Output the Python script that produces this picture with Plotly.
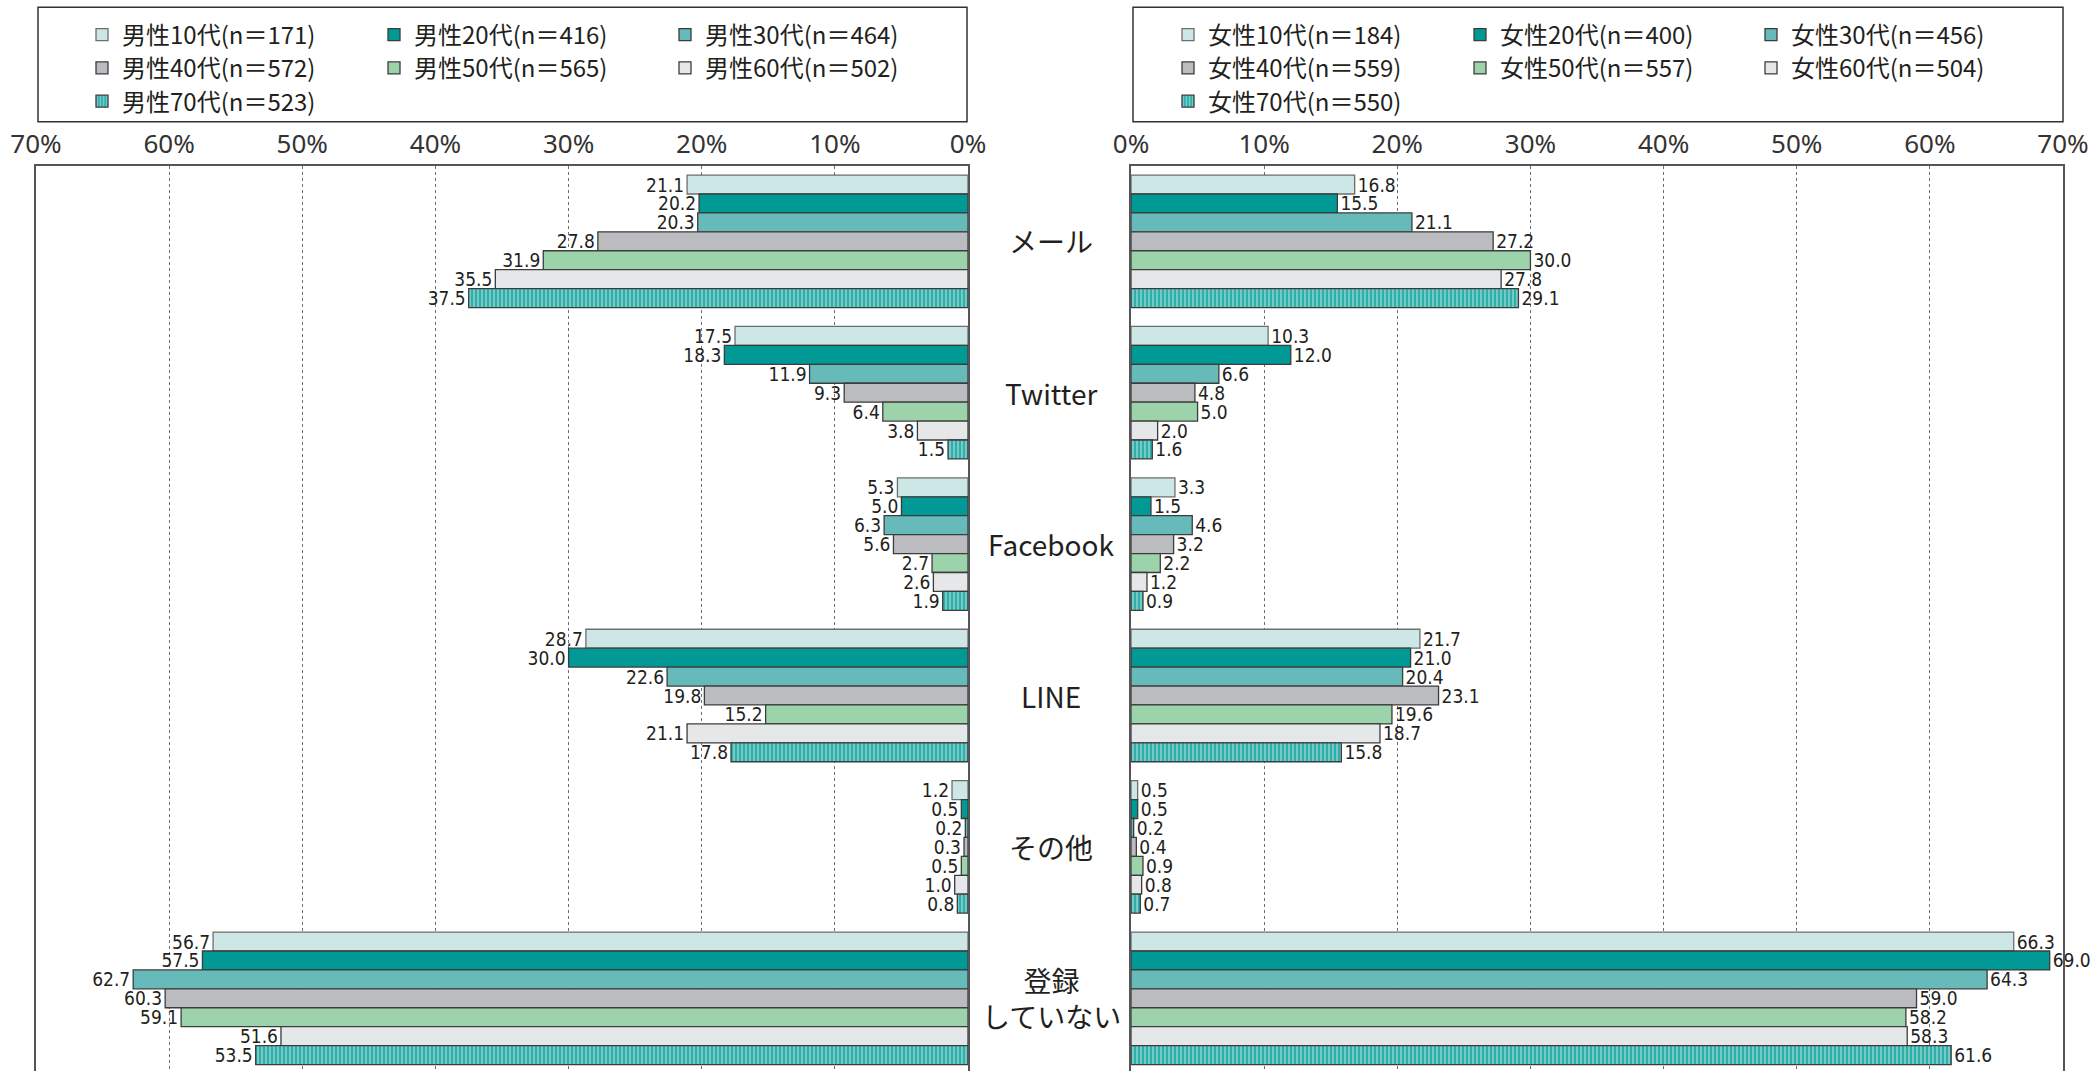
import plotly.graph_objects as go

# ---- data -------------------------------------------------------------
categories = ["メール", "Twitter", "Facebook", "LINE", "その他", "登録<br>していない"]
age_groups = ["10代", "20代", "30代", "40代", "50代", "60代", "70代"]

male_n = [171, 416, 464, 572, 565, 502, 523]
female_n = [184, 400, 456, 559, 557, 504, 550]

# values per age group, in category order (%)
male_values = [
    [21.1, 17.5, 5.3, 28.7, 1.2, 56.7],   # 10代
    [20.2, 18.3, 5.0, 30.0, 0.5, 57.5],   # 20代
    [20.3, 11.9, 6.3, 22.6, 0.2, 62.7],   # 30代
    [27.8, 9.3, 5.6, 19.8, 0.3, 60.3],    # 40代
    [31.9, 6.4, 2.7, 15.2, 0.5, 59.1],    # 50代
    [35.5, 3.8, 2.6, 21.1, 1.0, 51.6],    # 60代
    [37.5, 1.5, 1.9, 17.8, 0.8, 53.5],    # 70代
]
female_values = [
    [16.8, 10.3, 3.3, 21.7, 0.5, 66.3],   # 10代
    [15.5, 12.0, 1.5, 21.0, 0.5, 69.0],   # 20代
    [21.1, 6.6, 4.6, 20.4, 0.2, 64.3],    # 30代
    [27.2, 4.8, 3.2, 23.1, 0.4, 59.0],    # 40代
    [30.0, 5.0, 2.2, 19.6, 0.9, 58.2],    # 50代
    [27.8, 2.0, 1.2, 18.7, 0.8, 58.3],    # 60代
    [29.1, 1.6, 0.9, 15.8, 0.7, 61.6],    # 70代
]

tick_values = [0, 10, 20, 30, 40, 50, 60, 70]
tick_labels = ["0%", "10%", "20%", "30%", "40%", "50%", "60%", "70%"]

# ---- styling ------------------------------------------------------------
W, H = 2092, 1071
fills = ["#CDE6E6", "#009995", "#66BAB9", "#BBBCC0", "#9DD3AA", "#E6E7E9", "#2EAFAA"]
edge = "#3C3C3C"
jp_font = "Noto Sans CJK JP, Noto Sans, sans-serif"
num_font = "Liberation Sans Narrow, DejaVu Sans Condensed, Roboto Condensed, sans-serif"

left_dom = [36 / W, 968 / W]
right_dom = [1131 / W, 2063 / W]
plot_top_px = 165.6
y_dom = [0, 1 - plot_top_px / H]
slot_px = 151.4
y_range = [-0.5 + (H - plot_top_px) / slot_px, -0.5]


def px_y(py):
    return 1 - py / H


def px_x(px):
    return px / W


fig = go.Figure()

legend_rows_px = [35.0, 68.3, 101.6]
left_cols_px = [82, 374, 665]
right_cols_px = [1168, 1460, 1751]

for side, values, ns, xa, ya, cols, sex in (
    ("L", male_values, male_n, "x", "y", left_cols_px, "男性"),
    ("R", female_values, female_n, "x2", "y2", right_cols_px, "女性"),
):
    for i, age in enumerate(age_groups):
        marker = dict(color=fills[i], line=dict(color=edge if i else "#6E6E6E", width=1.3))
        if i == 6:
            marker["pattern"] = dict(shape="|", bgcolor=fills[i], fgcolor="#EAF6F5",
                                     size=4, solidity=0.38)
        num = (0 if side == "L" else 7) + i + 1
        leg_id = "legend" if num == 1 else f"legend{num}"
        fig.add_trace(go.Bar(
            orientation="h",
            y=categories,
            x=values[i],
            name=f"{sex}{age}(n＝{ns[i]})",
            marker=marker,
            text=values[i],
            texttemplate="%{x:.1f}",
            textposition="outside",
            textfont=dict(family=num_font, size=19, color="#231F20"),
            constraintext="none",
            cliponaxis=False,
            xaxis=xa,
            yaxis=ya,
            legend=leg_id,
            showlegend=True,
            hoverinfo="skip",
        ))
        r, c = divmod(i, 3)
        fig.update_layout({leg_id: dict(
            x=px_x(cols[c]), xanchor="left",
            y=px_y(legend_rows_px[r]), yanchor="middle",
            orientation="h",
            bgcolor="rgba(0,0,0,0)",
            borderwidth=0,
            font=dict(family=jp_font, size=24, color="#231F20"),
        )})

axis_common = dict(
    tickvals=tick_values,
    ticktext=tick_labels,
    side="top",
    showgrid=True,
    gridcolor="#6F6F6F",
    griddash="dot",
    gridwidth=1,
    zeroline=False,
    showline=True,
    linecolor="#555555",
    linewidth=1.5,
    ticks="",
    tickfont=dict(family="Noto Sans, Open Sans, sans-serif", size=26, color="#333333"),
    automargin=False,
    fixedrange=True,
)
yaxis_common = dict(
    type="category",
    categoryorder="array",
    categoryarray=categories,
    range=y_range,
    domain=y_dom,
    showticklabels=False,
    showgrid=False,
    zeroline=False,
    showline=True,
    mirror=True,
    linecolor="#555555",
    linewidth=1.5,
    ticks="",
    automargin=False,
    fixedrange=True,
)

fig.update_layout(
    width=W,
    height=H,
    autosize=False,
    showlegend=True,
    margin=dict(l=0, r=0, t=0, b=0, autoexpand=False),
    paper_bgcolor="white",
    plot_bgcolor="white",
    barmode="group",
    bargap=0.125,
    bargroupgap=0,
    xaxis=dict(axis_common, domain=left_dom, range=[70, 0], anchor="y"),
    xaxis2=dict(axis_common, domain=right_dom, range=[0, 70], anchor="y2"),
    yaxis=dict(yaxis_common, anchor="x"),
    yaxis2=dict(yaxis_common, anchor="x2"),
)

# legend frames
for x0, x1 in ((38, 967), (1133, 2063)):
    fig.add_shape(type="rect", xref="paper", yref="paper",
                  x0=px_x(x0), x1=px_x(x1), y0=px_y(121.7), y1=px_y(7.3),
                  line=dict(color="#333333", width=1.5), fillcolor="rgba(0,0,0,0)",
                  layer="above")

# category labels between the two panels
for cat in categories:
    fig.add_annotation(
        x=px_x(1051), xref="paper", y=cat, yref="y",
        text=cat, showarrow=False,
        font=dict(family=jp_font, size=28, color="#231F20"),
        xanchor="center", yanchor="middle",
    )

fig.write_html("out.html")
